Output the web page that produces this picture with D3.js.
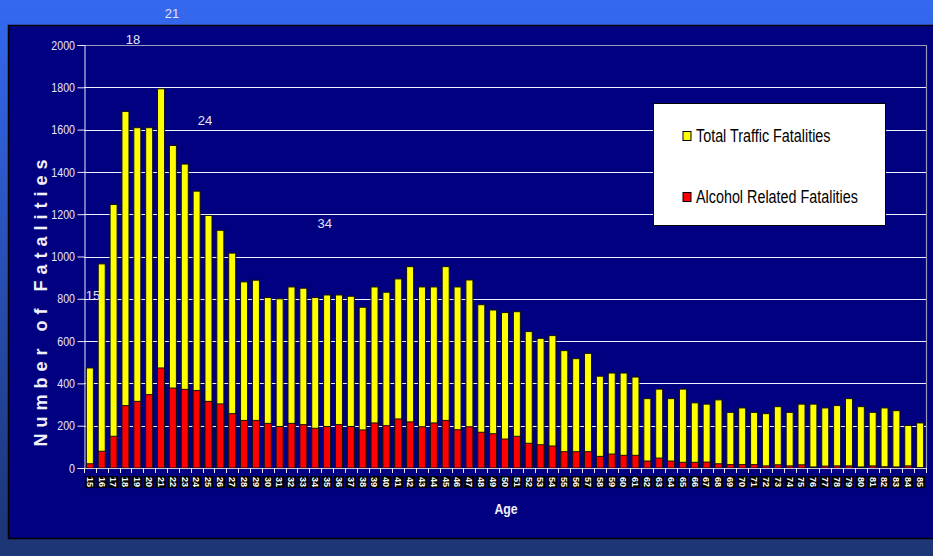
<!DOCTYPE html>
<html>
<head>
<meta charset="utf-8">
<script src="https://cdn.jsdelivr.net/npm/d3@7"></script>
<style>
  html, body { margin: 0; padding: 0; background: #1c3676; }
  svg { display: block; }
</style>
</head>
<body>
<svg id="chart" width="933" height="556"></svg>
<script>
// Ages shown along the x axis
const ages = ["15","16","17","18","19","20","21","22","23","24","25","26","27","28","29","30",
  "31","32","33","34","35","36","37","38","39","40","41","42","43","44","45","46","47","48","49",
  "50","51","52","53","54","55","56","57","58","59","60","61","62","63","64","65","66","67","68",
  "69","70","71","72","73","74","75","76","77","78","79","80","81","82","83","84","85"];

// Total traffic fatalities by age
const totalFatalities = [473,965,1246,1686,1609,1609,1793,1525,1437,1309,
  1194,1124,1016,880,888,806,800,856,850,806,
  818,818,812,760,856,831,894,952,856,856,
  952,856,889,772,747,735,739,645,613,626,
  555,517,542,434,449,449,430,328,373,328,
  373,308,302,322,263,284,263,257,290,263,
  302,302,284,295,328,290,263,284,271,201,
  213];

// Alcohol related fatalities by age
const alcoholFatalities = [20,79,150,295,315,347,473,378,372,366,
  315,303,257,225,225,211,196,211,205,188,
  196,205,196,180,213,200,232,218,195,213,
  225,181,195,169,162,137,150,117,110,104,
  77,77,77,55,66,60,60,33,47,33,
  27,27,28,20,16,16,16,10,15,10,
  15,5,9,10,10,5,10,6,5,10,
  2];

const yTicks = [0,200,400,600,800,1000,1200,1400,1600,1800,2000];

// Free-floating age callouts: [text, age position, value position]
const callouts = [["21", 21.92, 2147], ["18", 18.63, 2024], ["24", 24.7, 1645], ["34", 34.8, 1154], ["15", 15.26, 818]];

const seriesNames = ["Total Traffic Fatalities", "Alcohol Related Fatalities"];
const seriesColors = ["#ffff00", "#ff0000"];

const SANS = "'Liberation Sans',Arial,sans-serif";
const NARROW = 0.82; // horizontal squeeze for a condensed look

const svg = d3.select("#chart");
const W = 933, H = 556;
const plot = { left: 84, right: 926, top: 45, bottom: 468 };

// Backdrop
const defs = svg.append("defs");
const grad = defs.append("linearGradient").attr("id", "bg").attr("x1", 0).attr("y1", 0).attr("x2", 0).attr("y2", 1);
grad.append("stop").attr("offset", "0%").attr("stop-color", "#3469f0");
grad.append("stop").attr("offset", "100%").attr("stop-color", "#1b3373");
svg.append("rect").attr("width", W).attr("height", H).attr("fill", "url(#bg)");
svg.append("rect").attr("x", 0).attr("y", 538).attr("width", W).attr("height", H - 538).attr("fill", "#1c3676");
svg.append("rect").attr("x", 8.5).attr("y", 25.5).attr("width", W).attr("height", 513)
  .attr("fill", "#000080").attr("stroke", "#000").attr("stroke-width", 1.5);

const x = d3.scaleBand().domain(d3.range(ages.length)).range([plot.left, plot.right])
  .paddingInner(0.41).paddingOuter(0.2);
const y = d3.scaleLinear().domain([0, 2000]).range([plot.bottom, plot.top]);
const xAge = d3.scaleLinear().domain([15, 85])
  .range([x(0) + x.bandwidth() / 2, x(ages.length - 1) + x.bandwidth() / 2]);

// Gridlines
svg.append("g").selectAll("line").data(yTicks.filter(d => d > 0)).join("line")
  .attr("x1", plot.left).attr("x2", plot.right)
  .attr("y1", d => Math.round(y(d)) + 0.5).attr("y2", d => Math.round(y(d)) + 0.5)
  .attr("stroke", d => d === 2000 ? "#9a9ab8" : "#f0f0fc").attr("stroke-width", 1.2);
// Right frame of the plot area
svg.append("line").attr("x1", plot.right + 0.5).attr("x2", plot.right + 0.5)
  .attr("y1", plot.top).attr("y2", plot.bottom).attr("stroke", "#9a9ab8").attr("stroke-width", 1.2);

// Y axis
const yAxis = svg.append("g").attr("transform", `translate(${plot.left + 0.5},0)`)
  .call(d3.axisLeft(y).tickValues(yTicks).tickSize(7).tickPadding(2).tickFormat(d3.format("d")));
yAxis.select(".domain").attr("stroke", "#e8e8f4");
yAxis.selectAll(".tick line").attr("stroke", "#e8e8f4");
yAxis.selectAll("text").attr("fill", "#e6e6f6")
  .attr("x", -9.5 / NARROW).attr("transform", `scale(${NARROW},1)`)
  .style("font-family", SANS).style("font-size", "13px");

// Bars: total first, alcohol related drawn over it
const bars = svg.append("g");
bars.selectAll("rect.total").data(totalFatalities).join("rect").attr("class", "total")
  .attr("x", (d, i) => x(i)).attr("width", x.bandwidth())
  .attr("y", d => y(d)).attr("height", d => y(0) - y(d))
  .attr("fill", seriesColors[0]).attr("stroke", "#111").attr("stroke-width", 1);
bars.selectAll("rect.alc").data(alcoholFatalities).join("rect").attr("class", "alc")
  .attr("x", (d, i) => x(i)).attr("width", x.bandwidth())
  .attr("y", d => y(d)).attr("height", d => y(0) - y(d))
  .attr("fill", seriesColors[1]).attr("stroke", "#111").attr("stroke-width", 1);

// X axis line and category boundary ticks
const xg = svg.append("g");
xg.append("line").attr("x1", plot.left).attr("x2", plot.right)
  .attr("y1", plot.bottom + 0.5).attr("y2", plot.bottom + 0.5).attr("stroke", "#c8c8dc").attr("stroke-width", 1.2);
xg.selectAll("line.tk").data(d3.range(ages.length + 1)).join("line").attr("class", "tk")
  .attr("x1", i => Math.round(plot.left + i * (plot.right - plot.left) / ages.length) + 0.5)
  .attr("x2", i => Math.round(plot.left + i * (plot.right - plot.left) / ages.length) + 0.5)
  .attr("y1", plot.bottom).attr("y2", plot.bottom + 5).attr("stroke", "#e8e8f4");

// Rotated age labels on black tags
const labG = xg.selectAll("g.lab").data(ages).join("g").attr("class", "lab")
  .attr("transform", (d, i) => `translate(${x(i) + x.bandwidth() / 2},${plot.bottom + 9}) rotate(90)`);
labG.append("text").text(d => d)
  .attr("x", 0).attr("y", 0).attr("dy", "0.35em").attr("text-anchor", "start")
  .attr("fill", "#fff").style("font-family", SANS)
  .style("font-weight", "bold").style("font-size", "9px");
labG.each(function () {
  const g = d3.select(this);
  const bb = g.select("text").node().getBBox();
  g.insert("rect", "text").attr("x", bb.x - 1).attr("y", bb.y).attr("width", bb.width + 2).attr("height", bb.height)
    .attr("fill", "#000");
});

// Axis titles
svg.append("text").text("Number of Fatalities")
  .attr("transform", `translate(47,300) rotate(-90)`).attr("text-anchor", "middle")
  .attr("fill", "#f0f0fa").style("font-family", SANS)
  .style("font-weight", "bold").style("font-size", "18px").style("letter-spacing", "6px");
svg.append("text").text("Age")
  .attr("transform", `translate(506,514) scale(${NARROW},1)`).attr("text-anchor", "middle")
  .attr("fill", "#f0f0fa").style("font-family", SANS)
  .style("font-weight", "bold").style("font-size", "15px");

// Age callouts
svg.append("g").selectAll("text").data(callouts).join("text")
  .attr("x", d => xAge(d[1])).attr("y", d => y(d[2])).attr("dy", "0.35em")
  .attr("text-anchor", "middle").text(d => d[0])
  .attr("fill", "#e4e4f6").style("font-family", SANS).style("font-size", "13px");

// Legend
const lg = svg.append("g");
lg.append("rect").attr("x", 653.5).attr("y", 103.5).attr("width", 232).attr("height", 122)
  .attr("fill", "#fff").attr("stroke", "#000").attr("stroke-width", 1);
seriesNames.forEach((name, i) => {
  const cy = 136 + i * 61;
  lg.append("rect").attr("x", 683).attr("y", cy - 4.5).attr("width", 8).attr("height", 9)
    .attr("fill", seriesColors[i]).attr("stroke", "#000").attr("stroke-width", 1);
  lg.append("text").text(name).attr("transform", `translate(696,${cy}) scale(${NARROW},1)`).attr("dy", "0.36em")
    .attr("fill", "#000").style("font-family", SANS)
    .style("font-size", "17.5px");
});
</script>
</body>
</html>
